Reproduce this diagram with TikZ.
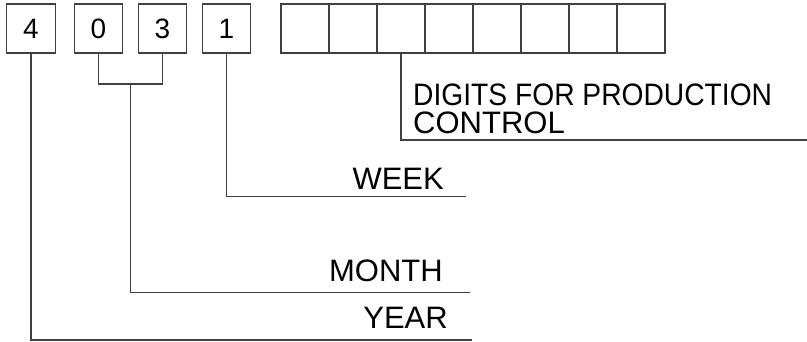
\documentclass[tikz,border=0pt]{standalone}
\usepackage{fontspec}
\setmainfont{Liberation Sans}
\usepackage{tikz}

\begin{document}
\begin{tikzpicture}[x=1pt, y=-1pt,
    cell/.style={draw=black!75, line width=1.2pt, minimum width=48.5pt,
        minimum height=49pt, inner sep=0pt, font=\fontsize{28}{30}\selectfont},
    lead/.style={draw=black!75, line width=1.2pt},
    label/.style={inner sep=0pt, font=\fontsize{31}{27.3}\selectfont}]

    \useasboundingbox (0,0) rectangle (807,341);

    % date code boxes
    \node[cell] (yr) at (31,28.5) {4};
    \node[cell] (mA) at (98.5,28.5) {0};
    \node[cell] (mB) at (162.5,28.5) {3};
    \node[cell] (wk) at (226.5,28.5) {1};
    
    % production control boxes
    \foreach \i in {1,...,8}
        \node[cell, minimum width=48pt] (p\i) at (257+48*\i,28.5) {};
    
    \coordinate (pEnd) at (807,140);
    \coordinate (wkEnd) at (466,196.7);
    \coordinate (mJoin) at (130.5,84);
    \coordinate (mEnd) at (470,292.7);
    \coordinate (yrEnd) at (472,340);
    
    \draw[lead] (p3.south) |- (pEnd);
    \draw[lead] (wk.south) |- (wkEnd);
    \draw[lead] (mA.south) |- (mJoin) -| (mB.south);
    \draw[lead] (mJoin) |- (mEnd);
    \draw[lead] (yr.south) |- (yrEnd);
    
    \node[label, align=left, anchor=base west] (pL) at (413,133)
        {\scalebox{0.91}[1]{DIGITS FOR PRODUCTION}\\CONTROL};
    \node[label, anchor=base east] (wkL) at (444,189) {WEEK};
    \node[label, anchor=base east] (mL) at (443,281) {MONTH};
    \node[label, anchor=base east] (yrL) at (448,328) {YEAR};
    
\end{tikzpicture}
\end{document}
